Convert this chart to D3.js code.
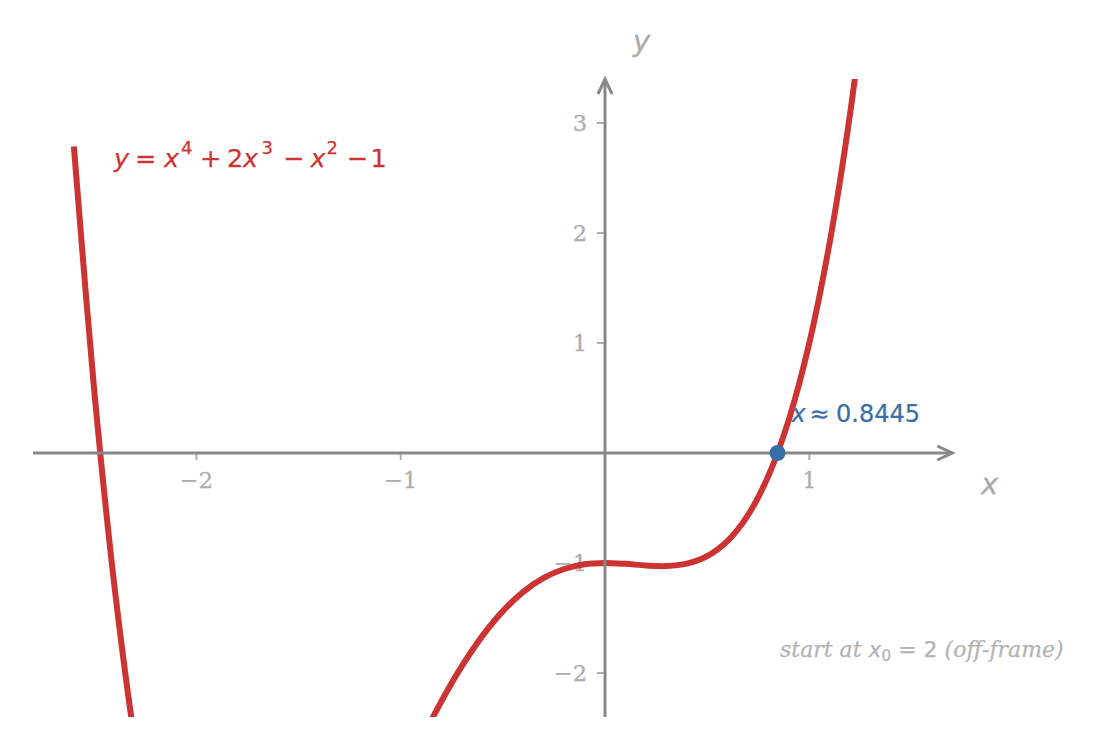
<!DOCTYPE html>
<html><head><meta charset="utf-8">
<script src="https://cdn.jsdelivr.net/npm/d3@7"></script>
<style>body{margin:0;background:#fff}svg{display:block}</style>
</head><body>
<svg id="c" width="1098" height="749"></svg>
<script>
const curveX = [-2.6,-2.5,-2.4,-2.3,-2.2,-2.1,-2.0,-1.9,-1.8,-1.7,-1.6,-1.5,-1.4,-1.3,-1.2,-1.1,-1.0,-0.9,-0.8,-0.7,-0.6,-0.5,-0.4,-0.3,-0.2,-0.1,0.0,0.1,0.2,0.3,0.4,0.5,0.6,0.7,0.8,0.9,1.0,1.1,1.2,1.3];
const curveY = [2.7856,0.5625,-1.2304,-2.6399,-3.7104,-4.4839,-5.0,-5.2959,-5.4064,-5.3639,-5.1984,-4.9375,-4.6064,-4.2279,-3.8224,-3.4079,-3.0,-2.6119,-2.2544,-1.9359,-1.6624,-1.4375,-1.2624,-1.1359,-1.0544,-1.0119,-1.0,-1.0079,-1.0224,-1.0279,-1.0064,-0.9375,-0.7984,-0.5639,-0.2064,0.3041,1.0,1.9161,3.0896,4.5601];
const rootX = [0.8445];
const rootY = [0];
const xTicks = [-2, -1, 1];
const yTicks = [-2, -1, 1, 2, 3];
const xTickLabels = ["\u22122", "\u22121", "1"];
const yTickLabels = ["\u22122", "\u22121", "1", "2", "3"];

const svg = d3.select("#c");
const x = d3.scaleLinear().domain([-2.8, 1.7]).range([33, 952.3]);
const y = d3.scaleLinear().domain([-2.4, 3.4]).range([717, 79]);
const axisCol = "#888888", tickCol = "#adadad";
const serif = "'DejaVu Serif', 'Liberation Serif', serif";
const sans = "'DejaVu Sans', sans-serif";

svg.append("defs").append("clipPath").attr("id","clip").append("rect")
  .attr("x", x(-2.8)).attr("y", y(3.4)).attr("width", x(1.7)-x(-2.8)).attr("height", y(-2.4)-y(3.4));

// ticks and tick labels
const g = svg.append("g");
xTicks.forEach((t,i)=>{
  g.append("line").attr("x1",x(t)).attr("x2",x(t)).attr("y1",y(0)).attr("y2",y(0)+7)
    .attr("stroke",tickCol).attr("stroke-width",2);
  g.append("text").attr("x",x(t)).attr("y",y(0)+35).attr("text-anchor","middle")
    .style("font-family",serif).style("font-size","22.5px").attr("fill",tickCol)
    .attr("stroke",tickCol).attr("stroke-width",0.3).text(xTickLabels[i]);
});
yTicks.forEach((t,i)=>{
  g.append("line").attr("x1",x(0)-8).attr("x2",x(0)).attr("y1",y(t)).attr("y2",y(t))
    .attr("stroke",tickCol).attr("stroke-width",2);
  g.append("text").attr("x",x(0)-18).attr("y",y(t)+8).attr("text-anchor","end")
    .style("font-family",serif).style("font-size","22.5px").attr("fill",tickCol)
    .attr("stroke",tickCol).attr("stroke-width",0.3).text(yTickLabels[i]);
});

// curve
const pts = curveX.map((v,i)=>[v,curveY[i]]);
svg.append("path").datum(pts).attr("clip-path","url(#clip)")
  .attr("d", d3.line().x(d=>x(d[0])).y(d=>y(d[1])).curve(d3.curveCatmullRom))
  .attr("fill","none").attr("stroke","#cc3333").attr("stroke-width",6).attr("stroke-linejoin","round");

// axes
svg.append("line").attr("x1",x(-2.8)).attr("x2",x(1.7)).attr("y1",y(0)).attr("y2",y(0))
  .attr("stroke",axisCol).attr("stroke-width",3);
svg.append("line").attr("x1",x(0)).attr("x2",x(0)).attr("y1",y(-2.4)).attr("y2",y(3.4))
  .attr("stroke",axisCol).attr("stroke-width",3);
const xe = x(1.7), ye = y(3.4);
svg.append("path").attr("d",`M${xe-15},${y(0)-7}L${xe},${y(0)}L${xe-15},${y(0)+7}`)
  .attr("fill","none").attr("stroke",axisCol).attr("stroke-width",3);
svg.append("path").attr("d",`M${x(0)-7},${ye+15}L${x(0)},${ye}L${x(0)+7},${ye+15}`)
  .attr("fill","none").attr("stroke",axisCol).attr("stroke-width",3);

// axis labels
svg.append("text").attr("x",981).attr("y",494).style("font-family",sans).style("font-style","italic")
  .style("font-size","29px").attr("fill","#aaaaaa").attr("stroke","#aaaaaa").attr("stroke-width",0.3).text("x");
svg.append("text").attr("x",633).attr("y",51).style("font-family",sans).style("font-style","italic")
  .style("font-size","29px").attr("fill","#aaaaaa").attr("stroke","#aaaaaa").attr("stroke-width",0.3).text("y");

// root point
svg.selectAll("circle.root").data(rootX).enter().append("circle")
  .attr("cx",d=>x(d)).attr("cy",(d,i)=>y(rootY[i])).attr("r",8).attr("fill","#3a6ea8");

// root label
const rl = svg.append("text").attr("y",422).style("font-family",sans)
  .style("font-size","24px").attr("fill","#3a6ea8").attr("stroke","#3a6ea8").attr("stroke-width",0.2);
rl.append("tspan").attr("x",791.5).style("font-style","italic").text("x");
rl.append("tspan").attr("x",809.5).text("\u2248");
rl.append("tspan").attr("x",836).text("0.8445");

// formula
const f = svg.append("text").attr("y",167).style("font-family",sans)
  .style("font-size","25.5px").attr("fill","#cc3333").attr("stroke","#cc3333").attr("stroke-width",0.25);
const parts = [
  {t:"y", x:114, it:true},
  {t:"=", x:135},
  {t:"x", x:164, it:true},
  {t:"4", x:181, sup:true},
  {t:"+", x:200},
  {t:"2", x:227},
  {t:"x", x:243, it:true},
  {t:"3", x:261.5, sup:true},
  {t:"\u2212", x:283},
  {t:"x", x:310.5, it:true},
  {t:"2", x:326.5, sup:true},
  {t:"\u2212", x:346.5},
  {t:"1", x:370.5}
];
parts.forEach(p=>{
  const s = f.append("tspan").attr("x",p.x).attr("y", p.sup ? 154 : 167).text(p.t);
  if (p.it) s.style("font-style","italic");
  if (p.sup) s.style("font-size","18px");
});

// annotation
const a = svg.append("text").attr("x",780).attr("y",657).style("font-family",serif)
  .style("font-style","italic").style("font-size","22px").attr("fill","#b3b3b3")
  .attr("stroke","#b3b3b3").attr("stroke-width",0.25);
a.append("tspan").text("start at ");
a.append("tspan").style("font-family",sans).text("x");
a.append("tspan").style("font-family",sans).style("font-style","normal").style("font-size","15px").attr("dy",4).text("0");
a.append("tspan").style("font-family",sans).style("font-style","normal").attr("dy",-4).text(" = 2");
a.append("tspan").text(" (off-frame)");
</script>
</body></html>
